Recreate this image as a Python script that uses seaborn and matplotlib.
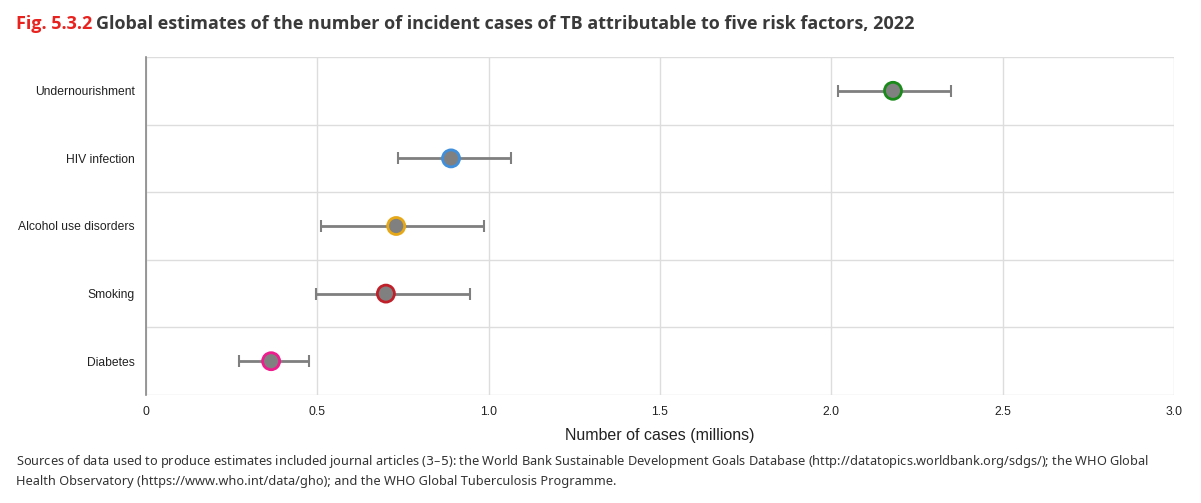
import matplotlib
matplotlib.use("Agg")
import matplotlib.pyplot as plt
import seaborn as sns
import pandas as pd

# Dados (milhões de casos)
factors = ["Undernourishment", "HIV infection", "Alcohol use disorders", "Smoking", "Diabetes"]
best = [2.18, 0.89, 0.73, 0.70, 0.365]
low = [2.02, 0.735, 0.51, 0.495, 0.27]
high = [2.35, 1.065, 0.985, 0.945, 0.475]
edge_colors = ["#1a8a1a", "#3f8fdc", "#e6a817", "#c0202a", "#ee1c8c"]

df = pd.DataFrame({"factor": factors, "best": best, "low": low, "high": high})
df["pos"] = range(len(df))

sns.set_theme(style="white")
plt.rcParams["font.family"] = ["Liberation Sans", "DejaVu Sans"]

fig = plt.figure(figsize=(12.01, 5.03), dpi=100)
ax = fig.add_axes([0.1216, 0.2147, 0.9775 - 0.1216, 0.8867 - 0.2147])

# barras de erro
ax.errorbar(df["best"], df["pos"],
            xerr=[df["best"] - df["low"], df["high"] - df["best"]],
            fmt="none", ecolor="#7f7f7f", elinewidth=2, capsize=4, capthick=1.5, zorder=2)

sns.scatterplot(data=df, x="best", y="pos", hue="factor", palette=edge_colors,
                ax=ax, s=150, legend=False, zorder=3, linewidth=0)
# recolorir: preenchimento cinza com borda colorida
coll = ax.collections[-1]
coll.set_facecolor("#808080")
coll.set_edgecolor(edge_colors)
coll.set_linewidth(2)

ax.set_xlim(0, 3.0)
ax.set_ylim(4.5, -0.5)
ax.set_xticks([0, 0.5, 1.0, 1.5, 2.0, 2.5, 3.0])
ax.set_xticklabels(["0", "0.5", "1.0", "1.5", "2.0", "2.5", "3.0"], fontsize=8.7, color="#222222")
ax.set_yticks(df["pos"])
ax.set_yticklabels(factors, fontsize=8.7, color="#222222")
ax.set_yticks([-0.5, 0.5, 1.5, 2.5, 3.5, 4.5], minor=True)
ax.tick_params(axis="y", which="major", length=0, pad=8)
ax.tick_params(axis="y", which="minor", length=4, color="#888888", width=1)
ax.tick_params(axis="x", length=0, pad=8)

ax.grid(axis="x", color="#dddddd", linewidth=1)
ax.grid(axis="y", which="minor", color="#dddddd", linewidth=1)
ax.set_axisbelow(True)

for s in ["top", "right", "bottom"]:
    ax.spines[s].set_visible(False)
ax.spines["left"].set_color("#888888")
ax.spines["left"].set_linewidth(1.2)

ax.set_xlabel("Number of cases (millions)", fontsize=11.5, color="#222222", labelpad=7)
ax.set_ylabel("")

# título em duas cores
title_font = ["Open Sans", "DejaVu Sans"]
t1 = fig.text(16 / 1201, 1 - 24 / 503, "Fig. 5.3.2", fontsize=13, fontweight="bold",
              color="#e8231f", family=title_font, va="center")
fig.canvas.draw()
bb = t1.get_window_extent()
fig.text(bb.x1 / 1201 + 4 / 1201, 1 - 24 / 503,
         "Global estimates of the number of incident cases of TB attributable to five risk factors, 2022",
         fontsize=13, fontweight="bold", color="#3a3a3a", family=title_font, va="center")

# nota de rodapé
fig.text(16 / 1201, 1 - 462 / 503,
         "Sources of data used to produce estimates included journal articles ($\\it{3\u20135}$): the World Bank Sustainable Development Goals Database (http://datatopics.worldbank.org/sdgs/); the WHO Global",
         fontsize=9.2, color="#333333", family=["Noto Sans", "DejaVu Sans"], va="center")
fig.text(16 / 1201, 1 - 481 / 503,
         "Health Observatory (https://www.who.int/data/gho); and the WHO Global Tuberculosis Programme.",
         fontsize=9.2, color="#333333", family=["Noto Sans", "DejaVu Sans"], va="center")

fig.savefig("out.png", dpi=100)
